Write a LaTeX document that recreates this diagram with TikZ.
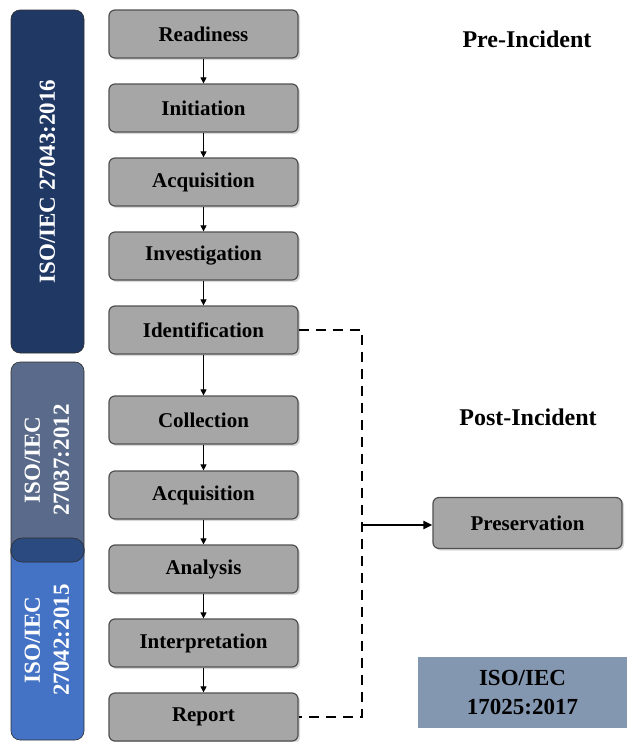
\documentclass[tikz,border=0pt]{standalone}
\usepackage{fontspec}
\setmainfont{Liberation Serif}
\usetikzlibrary{arrows.meta,shadows}
\definecolor{boxfill}{HTML}{A6A6A6}
\definecolor{boxborder}{HTML}{505050}
\definecolor{navybar}{HTML}{203864}
\definecolor{slatebar}{HTML}{5A6A8A}
\definecolor{bluebar}{HTML}{4472C4}
\definecolor{overlapbar}{HTML}{2A4A80}
\definecolor{steelbox}{HTML}{8497B0}
\begin{document}
\begin{tikzpicture}[x=1pt,y=-1pt,
  stepbox/.style={draw=boxborder, fill=boxfill, rounded corners=6pt, line width=1.2pt,
    minimum width=189pt, minimum height=48pt, inner sep=0pt,
    font=\fontsize{21}{24}\selectfont\bfseries,
    drop shadow={opacity=0.3, shadow xshift=2pt, shadow yshift=-2pt}},
  barbox/.style={draw=boxborder!60!black, line width=0.6pt, rounded corners=9pt, minimum width=73pt, inner sep=0pt},
  bartext/.style={rotate=90, text=white, align=center, font=\fontsize{23}{29}\selectfont\bfseries},
  flow/.style={-{Triangle[length=6pt,width=6pt]}, line width=0.8pt, black},
  dashline/.style={line width=2.8pt, dash pattern=on 10pt off 7pt, black},
  header/.style={font=\fontsize{24}{28}\selectfont\bfseries}
]
\useasboundingbox (0,0) rectangle (627,742);

% left standard bars
\node[barbox, fill=navybar, minimum height=343pt] (bar1) at (47.5,181.5) {};
\node[bartext] (bar1t) at (bar1.center) {ISO/IEC 27043:2016};
\node[barbox, fill=slatebar, minimum height=200pt] (bar2) at (47.5,462) {};
\node[barbox, fill=bluebar, minimum height=200pt] (bar3) at (47.5,640) {};
\node[barbox, fill=overlapbar, minimum height=24pt, rounded corners=11pt] (bar23) at (47.5,550) {};
\node[bartext] (bar2t) at (47,460) {ISO/IEC\\27037:2012};
\node[bartext] (bar3t) at (47,640) {ISO/IEC\\27042:2015};

% process steps
\node[stepbox] (ready) at (203.5,34) {Readiness};
\node[stepbox] (init) at (203.5,108) {Initiation};
\node[stepbox] (acq1) at (203.5,182) {Acquisition};
\node[stepbox] (inv) at (203.5,256) {Investigation};
\node[stepbox] (ident) at (203.5,330) {Identification};
\node[stepbox] (coll) at (203.5,420) {Collection};
\node[stepbox] (acq2) at (203.5,495) {Acquisition};
\node[stepbox] (anal) at (203.5,569) {Analysis};
\node[stepbox] (interp) at (203.5,643) {Interpretation};
\node[stepbox] (report) at (203.5,717) {Report};
\node[stepbox, minimum height=51pt] (pres) at (527.5,523) {Preservation};

\draw[flow] (ready) -- (init);
\draw[flow] (init) -- (acq1);
\draw[flow] (acq1) -- (inv);
\draw[flow] (inv) -- (ident);
\draw[flow] (ident) -- (coll);
\draw[flow] (coll) -- (acq2);
\draw[flow] (acq2) -- (anal);
\draw[flow] (anal) -- (interp);
\draw[flow] (interp) -- (report);

% dashed bracket and branch to preservation
\coordinate (jtop) at (362,330);
\coordinate (jbot) at (362,717);
\coordinate (branch) at (362,525);
\draw[dashline] (ident.east) -- (jtop) -- (jbot) -- (report.east);
\draw[-{Triangle[length=9pt,width=8pt]}, line width=2pt] (branch) -- (pres.west |- branch);

% headers
\node[header] (pre) at (527,39) {Pre-Incident};
\node[header] (post) at (528,417) {Post-Incident};

% 17025 box
\node[fill=steelbox, minimum width=209pt, minimum height=71pt, inner sep=0pt, align=center,
  font=\fontsize{23}{29}\selectfont\bfseries] (iso17025) at (522.5,692.5) {ISO/IEC\\17025:2017};
\end{tikzpicture}
\end{document}
